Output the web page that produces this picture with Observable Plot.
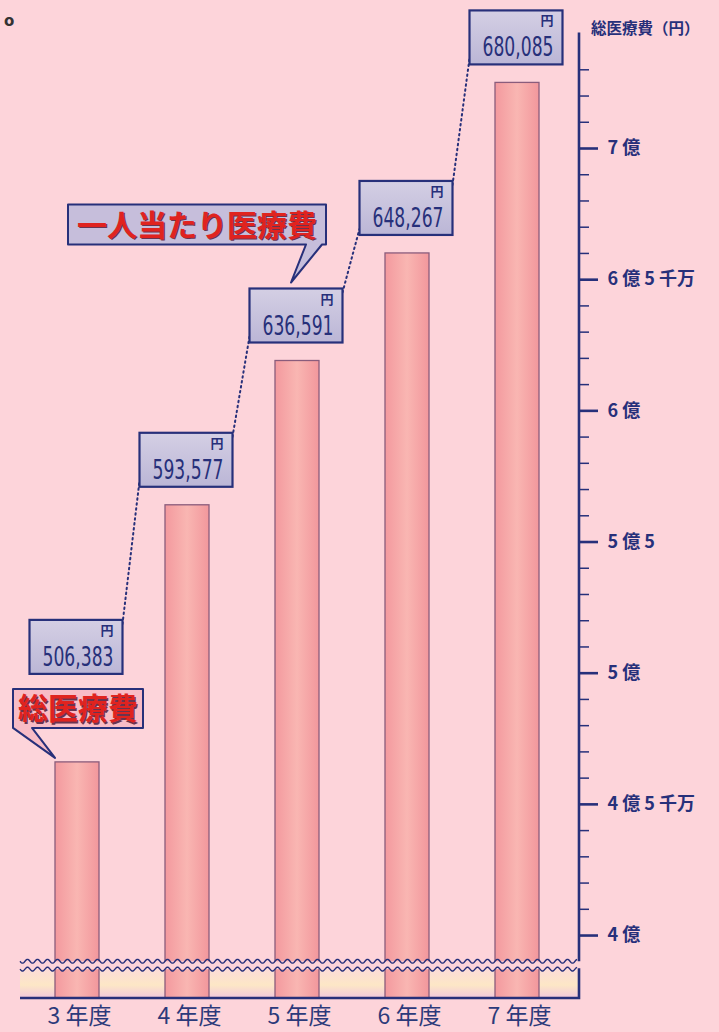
<!DOCTYPE html>
<html><head><meta charset="utf-8">
<script src="https://cdn.jsdelivr.net/npm/d3@7"></script>
<script src="https://cdn.jsdelivr.net/npm/@observablehq/plot@0.6"></script>
<style>
html,body{margin:0;padding:0;background:#fdd4da;}
#chart svg{display:block;}
</style></head><body><div id="chart"></div>
<script>
// ---- data ----
const years = ["3 年度", "4 年度", "5 年度", "6 年度", "7 年度"];
const totalCost = [466e6, 564e6, 619e6, 660e6, 725e6];          // 総医療費 (円)
const perCapita = [506383, 593577, 636591, 648267, 680085];     // 一人当たり医療費 (円)
const majorTicks = [4e8, 4.5e8, 5e8, 5.5e8, 6e8, 6.5e8, 7e8];
const majorLabels = ["4 億", "4 億 5 千万", "5 億", "5 億 5", "6 億", "6 億 5 千万", "7 億"];
const minorTicks = d3.range(41, 74).filter(v => v % 5 !== 0).map(v => v * 1e7);
const axisTitle = "総医療費（円）";
const calloutTotal = "総医療費";
const calloutPer = "一人当たり医療費";
const yenUnit = "円";

// ---- styling ----
const navy = "#27307a";
const red = "#e0231f";
const yFloor = 3.76e8, yTop = 7e8, axisTopValue = 7.44e8;
const breakHi = 3.9e8, breakLo = 3.87e8;
const cjk = "'Noto Sans CJK JP','Noto Sans',sans-serif";
const narrow = "'Liberation Sans Narrow','DejaVu Sans Condensed',Roboto,sans-serif";

const data = years.map((y, i) => ({year: y, total: totalCost[i], per: perCapita[i]}));
const labelOf = new Map(majorTicks.map((t, i) => [t, majorLabels[i]]));

const plot = Plot.plot({
  width: 719, height: 1032,
  marginLeft: 0, marginRight: 140, marginTop: 0, marginBottom: 0,
  style: {background: "transparent", fontFamily: cjk, overflow: "visible"},
  x: {type: "band", domain: years, range: [22, 572], paddingInner: 0.6, paddingOuter: 0.3, axis: null},
  y: {domain: [yFloor, yTop], range: [998, 148], axis: null},
  marks: [
    Plot.barY(data, {x: "year", y1: d => yFloor, y2: "total", fill: "url(#barGrad)", stroke: "#8a5c7c", strokeWidth: 1.3}),
    Plot.axisY(minorTicks, {anchor: "right", tickSize: 9, stroke: navy, strokeWidth: 1.5, tickFormat: () => "", label: null}),
    Plot.axisY(majorTicks, {anchor: "right", tickSize: 18, tickPadding: 10, stroke: navy, strokeWidth: 2.6,
      fill: navy, fontSize: 18, fontWeight: "bold", tickFormat: d => labelOf.get(d), label: null}),
    Plot.text(years, {x: d => d, text: d => d, frameAnchor: "bottom", dy: -16, lineAnchor: "middle",
      fontSize: 23, fill: "#2c3a7a", dx: 2})
  ]
});
document.getElementById("chart").appendChild(plot);

const svg = d3.select(plot);
const X = plot.scale("x"), Y = plot.scale("y");
const bw = X.bandwidth;
const xAxis = 579;
const xStart = 20;

// defs
const defs = svg.insert("defs", ":first-child");
const g1 = defs.append("linearGradient").attr("id", "barGrad").attr("x1", 0).attr("x2", 1).attr("y1", 0).attr("y2", 0);
g1.append("stop").attr("offset", 0).attr("stop-color", "#f3999e");
g1.append("stop").attr("offset", 0.5).attr("stop-color", "#f9b6b2");
g1.append("stop").attr("offset", 1).attr("stop-color", "#f2979c");
const g2 = defs.append("linearGradient").attr("id", "bandGrad").attr("x1", 0).attr("x2", 0).attr("y1", 0).attr("y2", 1);
g2.append("stop").attr("offset", 0).attr("stop-color", "#fcdcd8");
g2.append("stop").attr("offset", 0.55).attr("stop-color", "#fde7c6");
g2.append("stop").attr("offset", 1).attr("stop-color", "#f2c8dc");
const g3 = defs.append("linearGradient").attr("id", "boxGrad").attr("x1", 0).attr("x2", 0).attr("y1", 0).attr("y2", 1);
g3.append("stop").attr("offset", 0).attr("stop-color", "#d4cfe4");
g3.append("stop").attr("offset", 1).attr("stop-color", "#bbb6d6");

// band below break (behind bars)
const yBrkHi = Y.apply(breakHi), yBrkLo = Y.apply(breakLo), yBase = Y.apply(yFloor);
svg.insert("rect", "defs + *")
  .attr("x", xStart).attr("y", yBrkLo).attr("width", xAxis - xStart).attr("height", yBase - yBrkLo)
  .attr("fill", "url(#bandGrad)");

const deco = svg.append("g").attr("text-anchor", "start");
// break gap + waves
deco.append("rect").attr("x", xStart).attr("y", yBrkHi).attr("width", xAxis - xStart + 1).attr("height", yBrkLo - yBrkHi)
  .attr("fill", "#fdd4da");
function wave(y0) {
  const pts = d3.range(xStart, xAxis - 1, 1).map(x => [x, y0 + 2 * Math.sin((x - xStart) / 10 * 2 * Math.PI)]);
  deco.append("path").attr("d", d3.line()(pts)).attr("fill", "none").attr("stroke", navy).attr("stroke-width", 1.4);
}
wave(yBrkHi); wave(yBrkLo);

// axis lines
deco.append("line").attr("x1", xAxis).attr("x2", xAxis).attr("y1", Y.apply(axisTopValue)).attr("y2", yBrkHi)
  .attr("stroke", navy).attr("stroke-width", 2.6);
deco.append("path").attr("d", `M${xAxis},${yBrkLo - 1}V${yBase}H${xStart}`)
  .attr("fill", "none").attr("stroke", navy).attr("stroke-width", 2.6);

// axis title
deco.append("text").attr("x", 591).attr("y", 34).attr("text-anchor", "start").text(axisTitle)
  .attr("font-family", cjk).attr("font-size", 15.5).attr("font-weight", "bold").attr("fill", navy);
// stray mark from page
deco.append("text").attr("x", 4).attr("y", 26).attr("text-anchor", "start").text("o")
  .attr("font-family", "'DejaVu Sans',sans-serif").attr("font-size", 15).attr("font-weight", "bold").attr("fill", "#333");

// per-capita boxes
const boxes = data.map((d, i) => {
  const cx = X.apply(d.year) + bw / 2 - 1;
  const bottom = Y.apply(d.total) - (i === 0 ? 88 : 18);
  return {d, cx, left: cx - 46.5, right: cx + 46.5, bottom, top: bottom - 54};
});
// dotted connector
for (let i = 0; i < boxes.length - 1; i++) {
  const a = boxes[i], b = boxes[i + 1];
  deco.append("line").attr("x1", a.right).attr("y1", a.top + 4).attr("x2", b.left).attr("y2", b.bottom - 6)
    .attr("stroke", navy).attr("stroke-width", 2).attr("stroke-dasharray", "1.5,3.5").attr("stroke-linecap", "round");
}
boxes.forEach(b => {
  deco.append("rect").attr("x", b.left).attr("y", b.top).attr("width", b.right - b.left).attr("height", b.bottom - b.top)
    .attr("fill", "url(#boxGrad)").attr("stroke", navy).attr("stroke-width", 2.2);
  deco.append("text").attr("x", b.right - 9).attr("y", b.top + 15).attr("text-anchor", "end").text(yenUnit)
    .attr("font-family", cjk).attr("font-size", 13).attr("font-weight", "bold").attr("fill", navy);
  deco.append("text").attr("x", b.right - 9).attr("y", b.bottom - 8).attr("text-anchor", "end")
    .text(d3.format(",")(b.d.per))
    .attr("textLength", 71).attr("lengthAdjust", "spacingAndGlyphs")
    .attr("font-family", narrow).attr("font-size", 27).attr("fill", navy);
});

// callout: 総医療費 (points to first bar)
{
  const tipX = X.apply(years[0]), tipY = Y.apply(totalCost[0]) - 4;
  const left = tipX - 42, right = left + 130, bottom = tipY - 30, top = bottom - 39;
  deco.append("path").attr("d", `M${left},${top}H${right}V${bottom}H${left + 19}L${tipX},${tipY}L${left},${bottom}Z`)
    .attr("fill", "#f8bcc6").attr("stroke", navy).attr("stroke-width", 2).attr("stroke-linejoin", "round");
  const t = {x: (left + right) / 2, y: (top + bottom) / 2 + 11};
  deco.append("text").attr("x", t.x + 1.2).attr("y", t.y + 1.2).attr("text-anchor", "middle").text(calloutTotal)
    .attr("font-family", cjk).attr("font-size", 30).attr("font-weight", "bold").attr("fill", "#6a3450");
  deco.append("text").attr("x", t.x).attr("y", t.y).attr("text-anchor", "middle").text(calloutTotal)
    .attr("font-family", cjk).attr("font-size", 30).attr("font-weight", "bold").attr("fill", red);
}
// callout: 一人当たり医療費 (points to 5年度 box)
{
  const b = boxes[2];
  const tipX = b.cx - 5, tipY = b.top - 6;
  const right = tipX + 35, left = right - 258, bottom = tipY - 38, top = bottom - 40;
  deco.append("path").attr("d", `M${left},${top}H${right}V${bottom}H${right - 4}L${tipX},${tipY}L${right - 20},${bottom}H${left}Z`)
    .attr("fill", "#c6bedb").attr("stroke", navy).attr("stroke-width", 2).attr("stroke-linejoin", "round");
  const t = {x: (left + right) / 2, y: (top + bottom) / 2 + 11};
  deco.append("text").attr("x", t.x + 1.2).attr("y", t.y + 1.2).attr("text-anchor", "middle").text(calloutPer)
    .attr("font-family", cjk).attr("font-size", 30).attr("font-weight", "bold").attr("fill", "#6a3450");
  deco.append("text").attr("x", t.x).attr("y", t.y).attr("text-anchor", "middle").text(calloutPer)
    .attr("font-family", cjk).attr("font-size", 30).attr("font-weight", "bold").attr("fill", red);
}
</script>
</body></html>
